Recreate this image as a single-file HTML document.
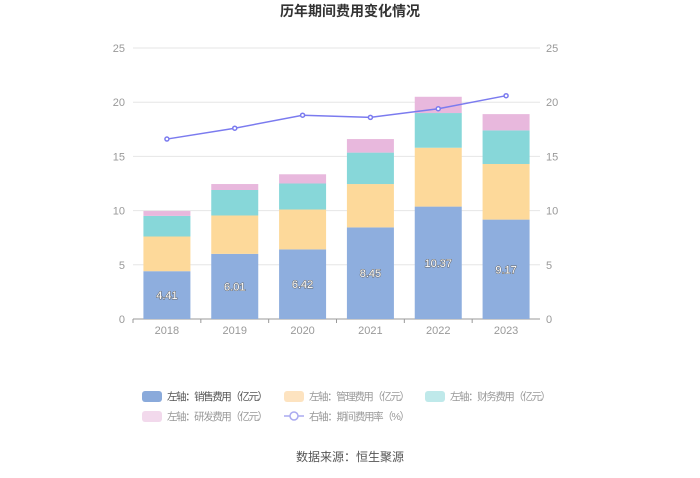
<!DOCTYPE html>
<html><head><meta charset="utf-8"><style>
body{margin:0;background:#fff;font-family:"Liberation Sans","Noto Sans CJK SC",sans-serif;}
svg text{font-family:"Liberation Sans","Noto Sans CJK SC",sans-serif;}
</style></head><body>
<svg id="c" width="700" height="473">
<text x="350" y="16" text-anchor="middle" font-size="14" font-weight="bold" fill="#333">历年期间费用变化情况</text>
<g id="grid"></g><g id="bars"></g><g id="line"></g>
<g font-size="10.5">
<rect x="142" y="391" width="20" height="11" rx="3" fill="#8aaadb"/>
<text x="167" y="400" fill="#555" textLength="101">左轴：销售费用（亿元）</text>
<rect x="284" y="391" width="20" height="11" rx="3" fill="#fde3c0"/>
<text x="309" y="400" fill="#999" textLength="101">左轴：管理费用（亿元）</text>
<rect x="425" y="391" width="20" height="11" rx="3" fill="#bfe9ea"/>
<text x="450" y="400" fill="#999" textLength="101">左轴：财务费用（亿元）</text>
<rect x="142" y="411" width="20" height="11" rx="3" fill="#f2d9ec"/>
<text x="167" y="420" fill="#999" textLength="101">左轴：研发费用（亿元）</text>
<line x1="284" y1="416" x2="304" y2="416" stroke="#aaaaf0" stroke-width="1.5"/>
<circle cx="294" cy="416" r="4" fill="#fff" stroke="#aaaaf0" stroke-width="1.5"/>
<text x="309" y="420" fill="#999" textLength="101">右轴：期间费用率（%）</text>
</g>
<text x="350" y="461" text-anchor="middle" font-size="12" fill="#555">数据来源：恒生聚源</text>
</svg>
<script>
const years=['2018','2019','2020','2021','2022','2023'];
const sales=[4.41,6.01,6.42,8.45,10.37,9.17];
const mgmt=[3.2,3.54,3.68,4.0,5.43,5.13];
const fin=[1.9,2.35,2.4,2.9,3.2,3.1];
const rd=[0.45,0.55,0.85,1.25,1.5,1.5];
const rate=[16.6,17.6,18.8,18.6,19.4,20.6];
const ticks=[0,5,10,15,20,25];
const NS='http://www.w3.org/2000/svg';
const x0=133,x1=540,y0=319,y1=48,maxV=25;
const y=v=>y0-(v/maxV)*(y0-y1);
const bw=(x1-x0)/years.length;
const cx=i=>x0+bw*(i+0.5);
function mk(t,a,p){const e=document.createElementNS(NS,t);for(const k in a)e.setAttribute(k,a[k]);p.appendChild(e);return e;}
const g=document.getElementById('grid');
ticks.forEach(t=>{
 const l=mk('line',{x1:x0,x2:x1,y1:y(t),y2:y(t),stroke:t===0?'#999':'#e6e6e6'},g);
 
 
 const a=mk('text',{x:x0-8,y:y(t)+4,'text-anchor':'end','font-size':11,fill:'#999'},g);a.textContent=t;
 
 
 const b=mk('text',{x:x1+6,y:y(t)+4,'font-size':11,fill:'#999'},g);b.textContent=t;
 
 
});
const bg=document.getElementById('bars');
const series=[[sales,'#8eaede'],[mgmt,'#fdd99a'],[fin,'#87d7d9'],[rd,'#e8b8dd']];
years.forEach((yr,i)=>{
 let base=0;
 series.forEach(([arr,c],s)=>{
  const r=mk('rect',{x:cx(i)-23.5,width:47,y:y(base+arr[i]),height:y(base)-y(base+arr[i]),fill:c},bg);
  
  
  base+=arr[i];
 });
 const t=mk('text',{x:cx(i),y:y(sales[i]/2)+4,'text-anchor':'middle','font-size':11,fill:'#fff',stroke:'#666','stroke-width':1,'paint-order':'stroke'},bg);
 t.textContent=sales[i].toFixed(2);
 
 
 const xl=mk('text',{x:cx(i),y:y0+15,'text-anchor':'middle','font-size':11,fill:'#999'},bg);
 xl.textContent=yr;
 
 
 const tk=mk('line',{x1:x0+bw*i,x2:x0+bw*i,y1:y0,y2:y0+4,stroke:'#999'},bg);
 
 
});
const lg=document.getElementById('line');
const p=mk('polyline',{points:rate.map((v,i)=>cx(i)+','+y(v)).join(' '),fill:'none',stroke:'#7b7bef','stroke-width':1.5},lg);


rate.forEach((v,i)=>{
 const c=mk('circle',{cx:cx(i),cy:y(v),r:2,fill:'#fff',stroke:'#7b7bef','stroke-width':1.5},lg);
 
 
});
</script>
</body></html>
